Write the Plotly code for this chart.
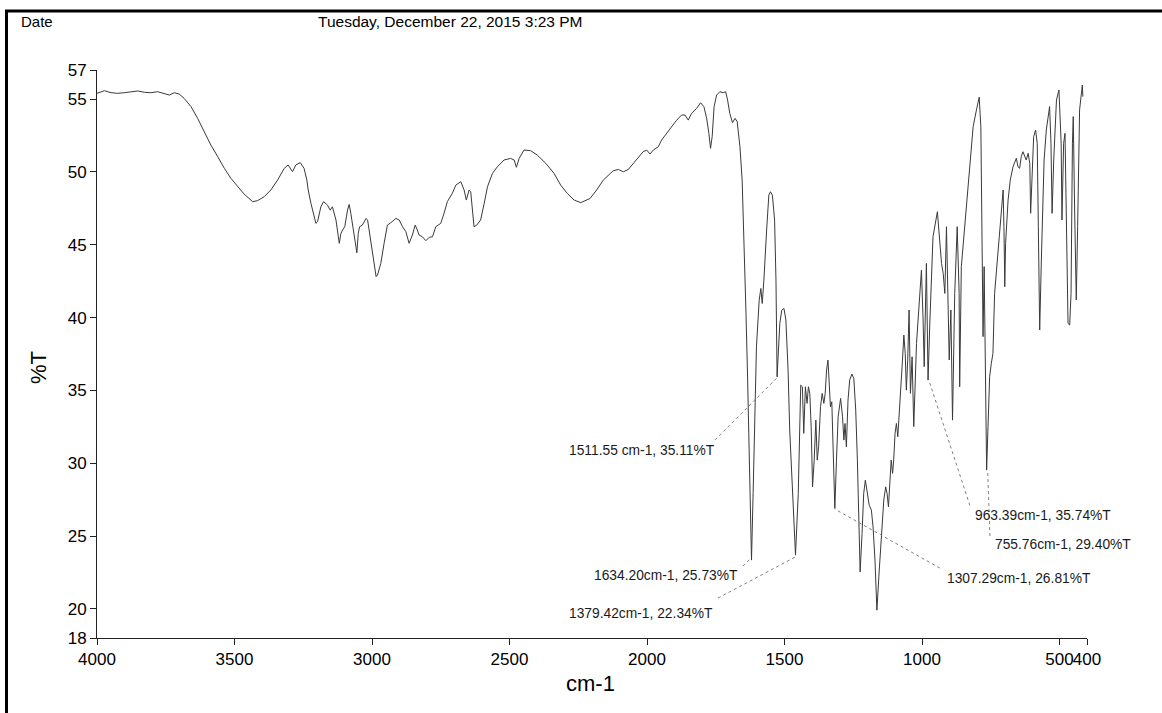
import plotly.graph_objects as go

# ---------------- data ----------------
WAVENUMBER = [
    4000, 3973, 3949, 3925, 3901, 3864, 3852, 3828, 3804, 3780, 3755, 3737, 3719, 3701, 3683,
    3658, 3634, 3610, 3586, 3561, 3537, 3513, 3489, 3465, 3434, 3416, 3392, 3368, 3343, 3319,
    3305, 3289, 3277, 3261, 3247, 3237, 3232, 3222, 3204, 3198, 3186, 3176, 3162, 3152, 3144,
    3131, 3119, 3113, 3107, 3099, 3089, 3083, 3077, 3067, 3059, 3055, 3050, 3045, 3035, 3022,
    3016, 3007, 2995, 2985, 2980, 2968, 2956, 2944, 2932, 2913, 2901, 2889, 2877, 2865, 2853,
    2843, 2835, 2829, 2817, 2804, 2792, 2780, 2768, 2750, 2738, 2726, 2708, 2695, 2677, 2665,
    2657, 2647, 2641, 2629, 2619, 2605, 2592, 2580, 2562, 2544, 2520, 2496, 2483, 2475, 2465,
    2447, 2423, 2399, 2368, 2338, 2314, 2290, 2265, 2241, 2207, 2183, 2159, 2141, 2123, 2104,
    2086, 2068, 2050, 2032, 2014, 2001, 1989, 1977, 1959, 1947, 1929, 1911, 1892, 1874, 1862,
    1850, 1838, 1820, 1805, 1793, 1783, 1775, 1769, 1763, 1756, 1747, 1735, 1723, 1714, 1707,
    1699, 1689, 1680, 1672, 1662, 1654, 1646, 1640, 1634, 1630, 1625, 1620, 1614, 1608, 1602,
    1592, 1586, 1581, 1575, 1565, 1557, 1551, 1544, 1536, 1531, 1527, 1522, 1517, 1510, 1502,
    1495, 1487, 1481, 1470, 1464, 1460, 1450, 1444, 1441, 1435, 1430, 1424, 1418, 1413, 1408,
    1403, 1398, 1392, 1386, 1381, 1376, 1369, 1363, 1357, 1352, 1347, 1342, 1338, 1333, 1328,
    1323, 1317, 1311, 1305, 1296, 1289, 1284, 1280, 1275, 1269, 1263, 1255, 1248, 1241, 1235,
    1230, 1225, 1218, 1212, 1206, 1200, 1192, 1184, 1178, 1171, 1164, 1157, 1147, 1139, 1132,
    1127, 1122, 1117, 1112, 1107, 1103, 1098, 1093, 1088, 1083, 1076, 1071, 1066, 1061, 1057,
    1052, 1047, 1042, 1036, 1030, 1020, 1008, 1002, 996, 992, 984, 978, 972, 960, 944,
    935, 929, 923, 917, 911, 905, 901, 895, 889, 881, 872, 865, 863, 857, 845,
    832, 814, 802, 792, 786, 782, 778, 774, 771, 766, 765, 760, 754, 748, 742,
    736, 723, 711, 705, 702, 699, 696, 687, 679, 669, 657, 651, 645, 639, 633,
    627, 621, 614, 608, 605, 600, 594, 587, 581, 577, 572, 566, 556, 548, 536,
    531, 527, 521, 511, 502, 494, 491, 485, 480, 475, 469, 463, 458, 453, 450,
    445, 439, 434, 427, 417, 415,
]
TRANSMITTANCE = [
    55.40, 55.58, 55.44, 55.40, 55.44, 55.51, 55.56, 55.47, 55.44, 55.51, 55.40, 55.28, 55.44, 55.35, 55.05,
    54.48, 53.68, 52.76, 51.85, 51.05, 50.25, 49.56, 48.99, 48.48, 47.96, 48.03, 48.30, 48.76, 49.45, 50.25,
    50.48, 50.02, 50.48, 50.64, 50.25, 49.45, 48.76, 47.84, 46.47, 46.58, 47.61, 47.96, 47.73, 47.38, 47.61,
    46.70, 45.10, 45.78, 46.01, 46.24, 47.38, 47.77, 47.16, 45.78, 44.87, 44.45, 45.78, 46.24, 46.35, 46.81,
    46.70, 45.55, 43.95, 42.81, 42.92, 43.72, 45.10, 46.35, 46.51, 46.81, 46.70, 46.24, 45.90, 45.10, 45.67,
    46.35, 46.01, 45.67, 45.55, 45.28, 45.51, 45.55, 46.24, 46.47, 47.16, 47.96, 48.53, 49.10, 49.33, 48.76,
    48.07, 48.76, 48.64, 46.24, 46.35, 46.70, 47.84, 48.99, 49.90, 50.36, 50.82, 50.93, 50.82, 50.32, 50.93,
    51.51, 51.46, 51.16, 50.59, 49.90, 49.10, 48.53, 48.07, 47.89, 48.18, 48.76, 49.44, 49.79, 50.08, 50.17,
    50.01, 50.17, 50.59, 51.04, 51.39, 51.50, 51.23, 51.50, 51.73, 52.19, 52.65, 53.10, 53.56, 53.91, 53.91,
    53.56, 54.02, 54.36, 54.75, 54.48, 53.68, 52.65, 51.62, 52.42, 54.48, 55.28, 55.51, 55.44, 55.51, 54.94,
    54.02, 53.38, 53.68, 53.45, 51.73, 49.44, 44.86, 40.28, 35.71, 32.27, 27.00, 23.35, 28.00, 33.42, 37.99,
    41.20, 42.00, 40.97, 42.57, 46.01, 48.41, 48.64, 48.41, 46.69, 42.57, 35.93, 38.00, 39.60, 40.51, 40.63,
    39.83, 36.39, 32.27, 27.50, 24.80, 23.69, 27.92, 32.50, 35.36, 35.25, 32.05, 35.25, 34.11, 35.25, 34.79,
    32.50, 28.38, 30.21, 32.96, 30.21, 31.13, 33.88, 34.79, 34.11, 34.79, 36.40, 37.08, 35.71, 33.88, 34.22,
    31.36, 26.89, 30.21, 33.19, 34.45, 33.19, 31.59, 32.73, 31.13, 34.34, 35.71, 36.12, 35.82, 33.65, 30.21,
    25.63, 22.54, 25.18, 27.92, 28.84, 28.15, 27.12, 26.78, 25.63, 23.35, 19.91, 22.20, 24.95, 27.47, 28.38,
    27.92, 27.01, 29.07, 30.21, 29.30, 30.21, 32.05, 32.73, 31.82, 33.65, 35.25, 37.08, 38.80, 37.54, 35.02,
    37.08, 40.52, 34.80, 37.31, 32.51, 38.23, 41.66, 43.27, 39.83, 36.63, 43.72, 35.71, 39.37, 45.56, 47.27,
    44.87, 43.72, 43.04, 41.66, 46.24, 41.66, 37.09, 40.52, 32.96, 41.66, 46.24, 41.66, 35.25, 43.50, 46.24,
    49.45, 53.11, 54.26, 55.13, 53.11, 46.24, 38.69, 43.50, 39.37, 31.36, 29.53, 32.51, 35.94, 36.86, 37.54,
    41.66, 44.87, 47.85, 48.76, 46.24, 42.12, 45.10, 48.07, 49.45, 50.36, 50.94, 50.36, 50.25, 51.05, 51.39,
    51.05, 50.82, 51.28, 50.59, 47.16, 49.68, 52.42, 52.88, 51.97, 46.24, 39.15, 43.95, 50.82, 52.88, 54.49,
    51.97, 47.16, 50.82, 54.94, 55.63, 51.97, 46.70, 51.97, 52.65, 47.39, 39.60, 39.49, 41.66, 51.97, 53.80,
    47.39, 41.21, 46.24, 54.26, 55.97, 55.17,
]

X_TICKS = [4000, 3500, 3000, 2500, 2000, 1500, 1000, 500, 400]
Y_TICKS = [18, 20, 25, 30, 35, 40, 45, 50, 55, 57]
X_RANGE = [4000, 400]
Y_RANGE = [18, 57]

# peak labels: text, peak point (line end), line start, text anchor
PEAK_TEXT = [
    "1511.55 cm-1, 35.11%T",
    "1634.20cm-1, 25.73%T",
    "1379.42cm-1, 22.34%T",
    "1307.29cm-1, 26.81%T",
    "963.39cm-1, 35.74%T",
    "755.76cm-1, 29.40%T",
]
PEAK_WN = [1528, 1622, 1462, 1317, 975, 761]
PEAK_T = [35.85, 23.48, 23.55, 26.85, 35.7, 29.4]
LINE_START_WN = [1753, 1651, 1742, 935, 826, 753]
LINE_START_T = [31.6, 22.93, 20.74, 22.8, 27.1, 25.0]
LABEL_WN = [1746, 1662, 1753, 917, 816, 743]
LABEL_T = [30.9, 22.3, 19.7, 22.1, 26.4, 24.4]
LABEL_SIDE = ["right", "right", "right", "left", "left", "left"]

HEADER_LEFT = "Date"
HEADER_DATE = "Tuesday, December 22, 2015 3:23 PM"
Y_TITLE = "%T"
X_TITLE = "cm-1"

# ---------------- layout geometry ----------------
W, H = 1162, 713
ML, MR, MT, MB = 97, 75, 70, 75
PW, PH = W - ML - MR, H - MT - MB


def pxx(xp):
    return (xp - ML) / PW


def pxy(yp):
    return (H - MB - yp) / PH


FONT = "Liberation Sans, Arial, sans-serif"

fig = go.Figure()
fig.add_trace(go.Scatter(
    x=WAVENUMBER, y=TRANSMITTANCE, mode="lines",
    line=dict(color="#3a3a3a", width=1), hoverinfo="skip", showlegend=False,
))

shapes = []
for i in range(len(PEAK_TEXT)):
    shapes.append(dict(
        type="line", xref="x", yref="y",
        x0=LINE_START_WN[i], y0=LINE_START_T[i], x1=PEAK_WN[i], y1=PEAK_T[i],
        line=dict(color="#808080", width=1, dash="dot"),
    ))

# page border (top and left)
shapes.append(dict(type="line", xref="paper", yref="paper",
                   x0=pxx(5), x1=pxx(W), y0=pxy(11), y1=pxy(11),
                   line=dict(color="black", width=3)))
shapes.append(dict(type="line", xref="paper", yref="paper",
                   x0=pxx(6.5), x1=pxx(6.5), y0=pxy(10), y1=pxy(H),
                   line=dict(color="black", width=3)))

annotations = []
for i in range(len(PEAK_TEXT)):
    annotations.append(dict(
        x=LABEL_WN[i], y=LABEL_T[i], xref="x", yref="y", text=PEAK_TEXT[i],
        showarrow=False, xanchor=LABEL_SIDE[i], yanchor="middle",
        font=dict(family=FONT, size=13.8, color="#1a1a1a"),
    ))

annotations += [
    dict(x=pxx(19), y=pxy(22), xref="paper", yref="paper", text=HEADER_LEFT,
         showarrow=False, xanchor="left", yanchor="middle",
         font=dict(family=FONT, size=15, color="black")),
    dict(x=pxx(316), y=pxy(22), xref="paper", yref="paper", text=HEADER_DATE,
         showarrow=False, xanchor="left", yanchor="middle",
         font=dict(family=FONT, size=15.5, color="black")),
    dict(x=pxx(38), y=pxy(368), xref="paper", yref="paper", text=Y_TITLE,
         showarrow=False, xanchor="center", yanchor="middle", textangle=-90,
         font=dict(family=FONT, size=22, color="black")),
    dict(x=pxx(590), y=pxy(683), xref="paper", yref="paper", text=X_TITLE,
         showarrow=False, xanchor="center", yanchor="middle",
         font=dict(family=FONT, size=22, color="black")),
]

axis_common = dict(
    showgrid=False, zeroline=False, showline=True, linecolor="#222", linewidth=1,
    ticks="outside", ticklen=6, tickcolor="#222", tickwidth=1,
    tickfont=dict(family=FONT, size=17, color="black"), tickangle=0,
)

fig.update_layout(
    width=W, height=H,
    margin=dict(l=ML, r=MR, t=MT, b=MB, pad=0),
    paper_bgcolor="white", plot_bgcolor="white",
    xaxis=dict(range=X_RANGE, tickmode="array", tickvals=X_TICKS,
               ticktext=[str(v) for v in X_TICKS], **axis_common),
    yaxis=dict(range=Y_RANGE, tickmode="array", tickvals=Y_TICKS,
               ticktext=[str(v) for v in Y_TICKS], **axis_common),
    shapes=shapes, annotations=annotations,
    showlegend=False,
)

fig.write_html("out.html")
